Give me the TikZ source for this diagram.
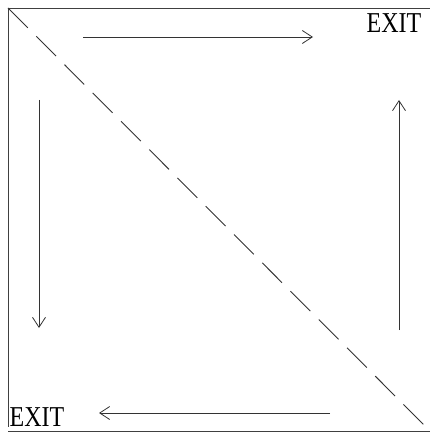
\documentclass[tikz,border=0pt]{standalone}
\usepackage{fontspec}
\setmainfont{Liberation Serif}
\usetikzlibrary{arrows.meta}

\begin{document}
\begin{tikzpicture}[x=1pt, y=-1pt,
  frame/.style={draw=black!75, line width=0.9pt},
  diag/.style={draw=black!80, line width=0.9pt, dash pattern=on 28pt off 12pt},
  ar/.style={-{Straight Barb[length=10pt, width=13pt]}, black!80, line width=0.8pt},
  lbl/.style={anchor=base, inner sep=0pt, font=\fontsize{24}{28}\selectfont,
              yscale=1.2, transform shape}]
\useasboundingbox (0,0) rectangle (430,433);
% frame and diagonal
\coordinate (tl) at (8,8);
\coordinate (tr) at (430,8);
\coordinate (bl) at (8,427);
\coordinate (bl2) at (8,431);
\coordinate (br) at (430,431);
\draw[frame] (tr) -- (tl) -- (bl);
\draw[frame] (bl2) -- (br);
\draw[diag] (tl) -- (br);
% circulation arrows
\coordinate (a1) at (83,37);  \coordinate (a2) at (313,37);
\coordinate (b1) at (399,330); \coordinate (b2) at (399,100);
\coordinate (c1) at (330,413); \coordinate (c2) at (99,413);
\coordinate (d1) at (39,100);  \coordinate (d2) at (39,328);
\draw[ar] (a1) -- (a2);
\draw[ar] (b1) -- (b2);
\draw[ar] (c1) -- (c2);
\draw[ar] (d1) -- (d2);
% exits
\node[lbl] (exitTop) at (394,33) {EXIT};
\node[lbl] (exitBot) at (37,426) {EXIT};
\end{tikzpicture}
\end{document}
